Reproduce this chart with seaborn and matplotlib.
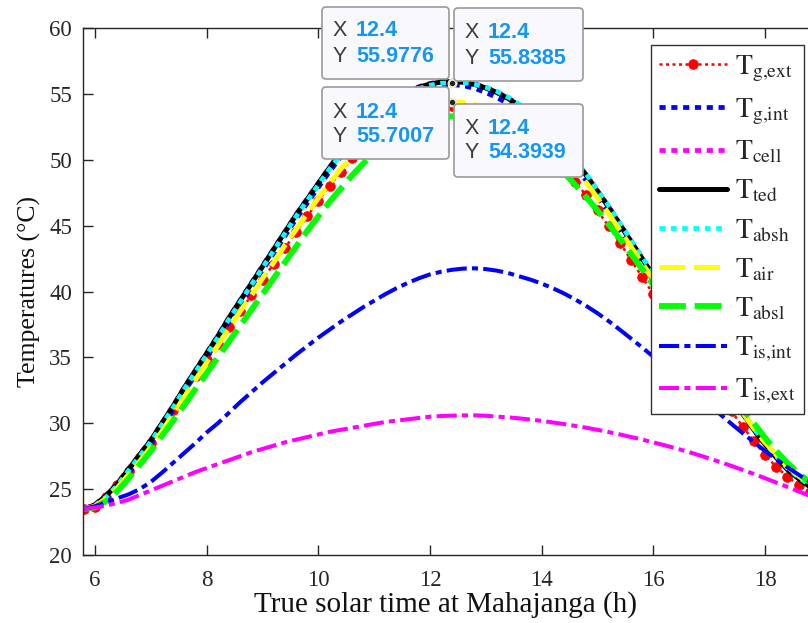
import numpy as np
import matplotlib
matplotlib.use("Agg")
import matplotlib.pyplot as plt
import seaborn as sns
from matplotlib.patches import FancyBboxPatch
import matplotlib.transforms as mtransforms

# ---------------- data ----------------
hours = np.round(np.arange(5.8, 18.81, 0.2), 1)

T_g_ext = [23.5, 23.65, 24.4, 25.3, 26.35, 27.45, 28.5, 29.7, 31.0, 32.3,
           33.55, 34.8, 36.0, 37.3, 38.5, 39.7, 40.9, 42.1, 43.3, 44.5,
           45.7, 46.9, 48.0, 49.1, 50.1, 51.0, 51.8, 52.5, 53.1, 53.5,
           53.8, 53.97, 54.05, 54.05,
           53.95, 53.8, 53.55, 53.2, 52.75, 52.2, 51.6, 50.9, 50.1, 49.2,
           48.3, 47.3, 46.15, 44.95, 43.7, 42.4, 41.1, 39.8, 38.5, 37.2,
           35.9, 34.6, 33.35, 32.1, 30.9, 29.75, 28.65, 27.6, 26.7, 25.95,
           25.3, 24.8]
T_g_int = [23.5, 23.7, 24.3, 25.15, 26.2, 27.3, 28.4, 29.7, 31.0, 32.4,
           33.7, 35.0, 36.3, 37.7, 39.0, 40.3, 41.6, 42.9, 44.2, 45.5,
           46.7, 47.9, 49.1, 50.2, 51.2, 52.1, 52.9, 53.6, 54.3, 54.8,
           55.2, 55.47, 55.65, 55.70,
           55.62, 55.42, 55.1, 54.72, 54.25, 53.7, 53.05, 52.3, 51.45, 50.5,
           49.5, 48.4, 47.2, 46.0, 44.7, 43.4, 42.1, 40.8, 39.5, 38.2,
           36.95, 35.7, 34.45, 33.2, 31.95, 30.7, 29.5, 28.45, 27.5, 26.6,
           25.9, 25.3]
T_cell = [23.5, 23.85, 24.55, 25.45, 26.55, 27.65, 28.75, 30.05, 31.35, 32.75,
          34.05, 35.35, 36.65, 38.05, 39.35, 40.65, 41.95, 43.25, 44.55, 45.85,
          47.05, 48.25, 49.45, 50.55, 51.55, 52.45, 53.25, 53.95, 54.65, 55.15,
          55.55, 55.8, 55.95, 55.98,
          55.93, 55.77, 55.5, 55.15, 54.7, 54.15, 53.5, 52.75, 51.9, 50.95,
          49.95, 48.85, 47.65, 46.45, 45.15, 43.85, 42.55, 41.25, 39.95, 38.65,
          37.35, 36.05, 34.75, 33.45, 32.15, 30.85, 29.55, 28.45, 27.45, 26.55,
          25.85, 25.25]
T_ted = [23.5, 23.8, 24.5, 25.4, 26.5, 27.6, 28.7, 30.0, 31.3, 32.7,
         34.0, 35.3, 36.6, 38.0, 39.3, 40.6, 41.9, 43.2, 44.5, 45.8,
         47.0, 48.2, 49.4, 50.5, 51.5, 52.4, 53.2, 53.9, 54.6, 55.1,
         55.5, 55.75, 55.9, 55.93,
         55.88, 55.72, 55.45, 55.1, 54.65, 54.1, 53.45, 52.7, 51.85, 50.9,
         49.9, 48.8, 47.6, 46.4, 45.1, 43.8, 42.5, 41.2, 39.9, 38.6,
         37.3, 36.0, 34.7, 33.4, 32.1, 30.8, 29.5, 28.4, 27.4, 26.5,
         25.8, 25.2]
T_absh = [23.5, 23.75, 24.4, 25.3, 26.4, 27.5, 28.6, 29.9, 31.2, 32.6,
          33.9, 35.2, 36.5, 37.9, 39.2, 40.5, 41.8, 43.1, 44.4, 45.7,
          46.9, 48.1, 49.3, 50.4, 51.4, 52.3, 53.1, 53.8, 54.5, 55.0,
          55.4, 55.66, 55.81, 55.84,
          55.85, 55.73, 55.5, 55.18, 54.75, 54.2, 53.55, 52.8, 51.95, 51.0,
          50.0, 48.9, 47.7, 46.5, 45.2, 43.9, 42.6, 41.3, 40.0, 38.7,
          37.4, 36.1, 34.8, 33.5, 32.2, 30.9, 29.6, 28.5, 27.5, 26.6,
          25.9, 25.3]
T_air = [23.5, 23.7, 24.3, 25.1, 26.1, 27.1, 28.2, 29.4, 30.7, 32.0,
         33.3, 34.6, 35.9, 37.2, 38.5, 39.7, 41.0, 42.2, 43.5, 44.7,
         45.9, 47.1, 48.2, 49.3, 50.2, 51.1, 51.9, 52.6, 53.2, 53.7,
         54.05, 54.28, 54.38, 54.39,
         54.33, 54.18, 53.95, 53.65, 53.3, 52.85, 52.35, 51.75, 51.05, 50.25,
         49.3, 48.25, 47.1, 45.9, 44.65, 43.4, 42.15, 40.9, 39.6, 38.3,
         37.0, 35.75, 34.5, 33.25, 32.0, 30.8, 29.6, 28.55, 27.6, 26.7,
         26.0, 25.4]
T_absl = [23.5, 23.6, 24.1, 24.85, 25.8, 26.85, 27.9, 29.05, 30.2, 31.4,
          32.6, 33.8, 35.0, 36.2, 37.4, 38.6, 39.8, 41.0, 42.2, 43.4,
          44.6, 45.7, 46.8, 47.8, 48.8, 49.7, 50.5, 51.2, 51.8, 52.3,
          52.7, 53.0, 53.2, 53.3,
          53.32, 53.25, 53.05, 52.75, 52.35, 51.85, 51.25, 50.6, 49.85, 49.0,
          48.1, 47.15, 46.15, 45.1, 44.0, 42.85, 41.7, 40.5, 39.3, 38.1,
          36.9, 35.7, 34.55, 33.4, 32.25, 31.1, 30.0, 28.9, 27.9, 27.0,
          26.2, 25.5]
T_is_int = [23.5, 23.7, 24.0, 24.3, 24.6, 25.0, 25.55, 26.25, 27.0, 27.75,
            28.5, 29.3, 30.0, 30.8, 31.6, 32.35, 33.1, 33.8, 34.5, 35.2,
            35.85, 36.5, 37.1, 37.7, 38.25, 38.8, 39.3, 39.8, 40.25, 40.65,
            41.0, 41.3, 41.5, 41.65,
            41.74, 41.76, 41.7, 41.58, 41.4, 41.15, 40.9, 40.6, 40.25, 39.85,
            39.4, 38.9, 38.35, 37.75, 37.1, 36.43, 35.75, 35.05, 34.33, 33.6,
            32.87, 32.13, 31.4, 30.67, 29.95, 29.25, 28.57, 27.9, 27.27, 26.67,
            26.1, 25.57]
T_is_ext = [23.5, 23.6, 23.75, 23.95, 24.2, 24.55, 24.9, 25.25, 25.6, 25.95,
            26.3, 26.6, 26.9, 27.2, 27.5, 27.8, 28.05, 28.3, 28.55, 28.75,
            28.95, 29.15, 29.35, 29.5, 29.65, 29.8, 29.95, 30.1, 30.2, 30.3,
            30.4, 30.5, 30.55, 30.58,
            30.6, 30.6, 30.57, 30.5, 30.45, 30.37, 30.28, 30.18, 30.06, 29.94,
            29.8, 29.66, 29.5, 29.33, 29.15, 28.96, 28.76, 28.55, 28.33, 28.1,
            27.86, 27.6, 27.33, 27.05, 26.76, 26.46, 26.15, 25.83, 25.5, 25.17,
            24.83, 24.5]

labels = [r"$\mathrm{T}_{\mathrm{g{,}ext}}$", r"$\mathrm{T}_{\mathrm{g{,}int}}$",
          r"$\mathrm{T}_{\mathrm{cell}}$", r"$\mathrm{T}_{\mathrm{ted}}$",
          r"$\mathrm{T}_{\mathrm{absh}}$", r"$\mathrm{T}_{\mathrm{air}}$",
          r"$\mathrm{T}_{\mathrm{absl}}$", r"$\mathrm{T}_{\mathrm{is{,}int}}$",
          r"$\mathrm{T}_{\mathrm{is{,}ext}}$"]

x_ticks = [6, 8, 10, 12, 14, 16, 18]
y_ticks = [20, 25, 30, 35, 40, 45, 50, 55, 60]

tip_x = 12.4
tip_values = [55.9776, 55.8385, 55.7007, 54.3939]

# ---------------- styles ----------------
styles = [
    dict(color="#ff0000", lw=1.8, linestyle=(0, (1.2, 1.4)), marker="o", markersize=7,
         markeredgecolor="#ff0000", markerfacecolor="#ff0000", markeredgewidth=0.5),
    dict(color="#0000ff", lw=3.4, linestyle=(0, (1.3, 1.2))),
    dict(color="#ff00ff", lw=3.4, linestyle=(0, (1.3, 1.2))),
    dict(color="#000000", lw=3.6, linestyle="-"),
    dict(color="#00ffff", lw=3.4, linestyle=(0, (1.2, 1.2))),
    dict(color="#ffff00", lw=3.6, linestyle=(0, (5.2, 1.7))),
    dict(color="#00ff00", lw=4.2, linestyle=(0, (4.6, 1.5))),
    dict(color="#0000ff", lw=2.9, linestyle=(0, (5.0, 1.3, 1.5, 1.3))),
    dict(color="#ff00ff", lw=2.9, linestyle=(0, (5.0, 1.3, 1.5, 1.3))),
]
series = [T_g_ext, T_g_int, T_cell, T_ted, T_absh, T_air, T_absl, T_is_int, T_is_ext]

sns.set_style("ticks")
plt.rcParams["font.family"] = ["Liberation Serif", "DejaVu Serif"]
plt.rcParams["mathtext.fontset"] = "stix"

W, H = 808, 623
fig = plt.figure(figsize=(W / 100, H / 100), dpi=100)
ax = fig.add_axes([83 / W, 1 - 555 / H, 1 - 83 / W, 527 / H])

for vals, lab, st in zip(series, labels, styles):
    sns.lineplot(x=hours, y=vals, ax=ax, label=lab, sort=False, estimator=None,
                 legend=False, dash_capstyle="butt", **st)

ax.set_xlim(5.785, 18.77)
ax.set_ylim(20, 60)
ax.set_xticks(x_ticks)
ax.set_yticks(y_ticks)
ax.tick_params(direction="in", length=7, width=1, top=True, right=False,
               labelsize=16.5, colors="#262626", pad=8)
ax.tick_params(axis="x", pad=11)
for s in ["left", "bottom", "top"]:
    ax.spines[s].set_visible(True)
    ax.spines[s].set_color("#262626")
    ax.spines[s].set_linewidth(1.0)
ax.spines["right"].set_visible(False)
ax.set_xlabel("True solar time at Mahajanga (h)", fontsize=21, color="#111111", labelpad=0)
ax.set_ylabel("Temperatures (\u00b0C)", fontsize=18.5, color="#111111", labelpad=6)

handles = ax.get_lines()[:9]
leg = ax.legend(handles, labels, loc="upper left",
                bbox_to_anchor=(651 / W, 1 - 45 / H), bbox_transform=fig.transFigure,
                borderaxespad=0, frameon=True, fancybox=False, edgecolor="#333333",
                framealpha=1, fontsize=20, handlelength=2.45, handletextpad=0.28,
                labelspacing=0.45, borderpad=0.3, numpoints=1)
leg.get_frame().set_linewidth(1.0)

# datatip markers
i_tip = int(np.argmin(np.abs(hours - tip_x)))
ax.plot([hours[i_tip], hours[i_tip]], [T_absh[i_tip], T_air[i_tip]], "o", color="#222222",
        markersize=5.5, markeredgecolor="#f2ecc6", markeredgewidth=1.6, zorder=30,
        clip_on=False)

# datatip boxes (pixel coordinates measured from top-left)
tr = mtransforms.Affine2D().scale(1 / W, -1 / H).translate(0, 1) + fig.transFigure
boxes = [
    (322, 7, 127, 72, 31, 57, tip_values[0]),
    (454, 8, 129, 73, 33, 59, tip_values[1]),
    (322, 87, 127, 72, 113, 137, tip_values[2]),
    (454, 104, 129, 73, 128, 153, tip_values[3]),
]
for (bx, by, bw, bh, r1, r2, val) in boxes:
    p = FancyBboxPatch((bx, by), bw, bh, boxstyle="round,pad=0,rounding_size=4",
                       transform=tr, facecolor="#f9f9fd", edgecolor="#9a9a9a",
                       linewidth=1.2, zorder=40)
    fig.add_artist(p)
    fig.text(bx + 11, r1, "X", transform=tr, fontsize=15.5, color="#3c3c3c",
             family=["Liberation Sans", "DejaVu Sans"], va="center", ha="left", zorder=41)
    fig.text(bx + 11, r2, "Y", transform=tr, fontsize=15.5, color="#3c3c3c",
             family=["Liberation Sans", "DejaVu Sans"], va="center", ha="left", zorder=41)
    fig.text(bx + 34, r1, f"{tip_x:g}", transform=tr, fontsize=15.5, color="#1496f7",
             fontweight="bold", family=["Liberation Sans", "DejaVu Sans"],
             va="center", ha="left", zorder=41)
    fig.text(bx + 34, r2, f"{val:.4f}", transform=tr, fontsize=15.5, color="#1496f7",
             fontweight="bold", family=["Liberation Sans", "DejaVu Sans"],
             va="center", ha="left", zorder=41)

fig.savefig("out.png", dpi=100)
